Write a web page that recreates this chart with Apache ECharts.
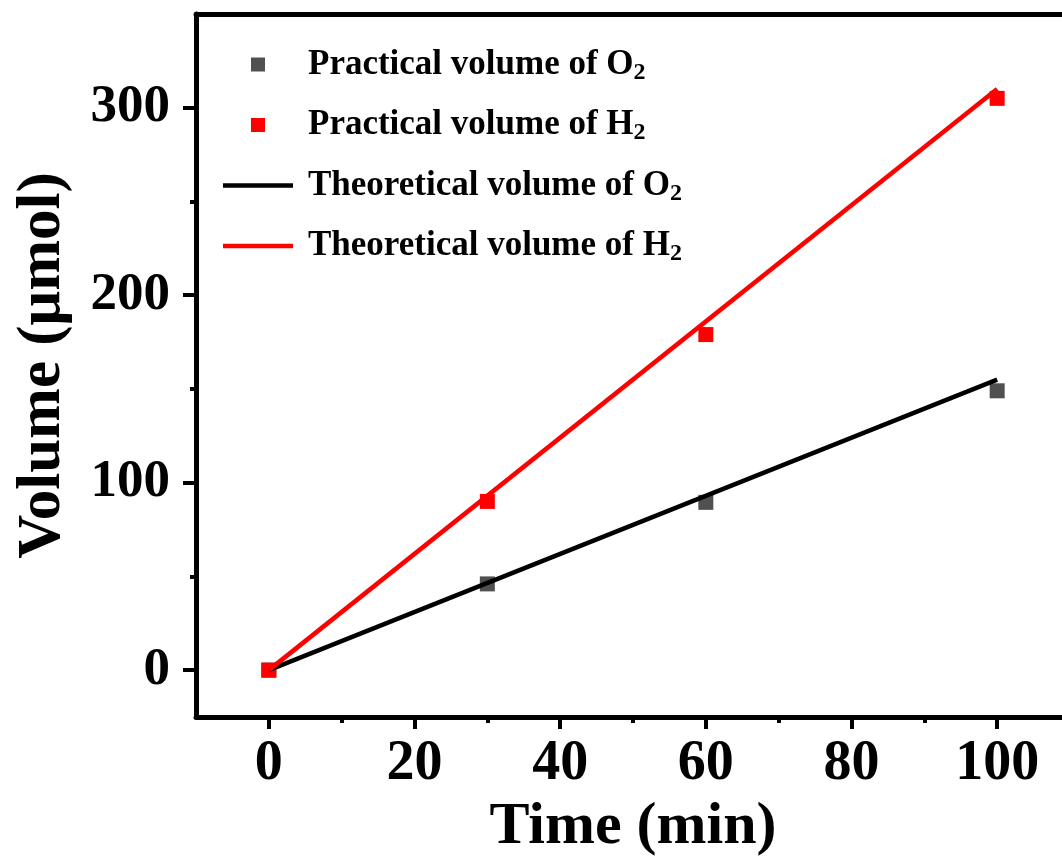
<!DOCTYPE html>
<html>
<head>
<meta charset="utf-8">
<title>Volume vs time</title>
<script src="https://cdn.jsdelivr.net/npm/echarts@6/dist/echarts.min.js"></script>
<style>
  html, body { margin: 0; padding: 0; background: #fff; }
  #chart { width: 1062px; height: 856px; }
</style>
</head>
<body>
<div id="chart"></div>
<script>
// Measured gas volumes (μmol) at each sampling time (min)
const sampleTimes = [0, 30, 60, 100];
const practicalO2 = [0, 46, 89.5, 149];
const practicalH2 = [0, 90, 179, 305];

// Theoretical volumes, straight lines from the start to the end of the run
const theoryTimes = [0, 100];
const theoreticalO2 = [0, 155];
const theoreticalH2 = [0, 310];

// Axis ticks and labels
const xMajorTicks = [0, 20, 40, 60, 80, 100];
const xMinorTicks = [10, 30, 50, 70, 90];
const yMajorTicks = [0, 100, 200, 300];
const yMinorTicks = [50, 150, 250];

// Legend entries: main text plus subscript
const seriesNames = [
  ['Practical volume of O', '2'],
  ['Practical volume of H', '2'],
  ['Theoretical volume of O', '2'],
  ['Theoretical volume of H', '2']
];

const FONT = "'Liberation Serif', 'Times New Roman', serif";
const pair = (xs, ys) => xs.map((x, i) => [x, ys[i]]);
const fullName = (n) => n[0] + n[1];
const squareIcon = 'path://M0,0L10,0L10,10L0,10Z';
const lineIcon = 'path://M0,0L70,0L70,4.5L0,4.5Z';

const chart = echarts.init(document.getElementById('chart'), null, { renderer: 'canvas' });

const axisBase = {
  type: 'value',
  min: -10,
  max: 110,
  splitLine: { show: false }
};

const option = {
  backgroundColor: '#fff',
  animation: false,
  grid: {
    left: 196, right: -8, top: 14, bottom: 139,
    outerBoundsMode: 'none'
  },
  legend: {
    orient: 'vertical',
    left: 223,
    top: 47,
    padding: 0,
    itemGap: 23,
    itemWidth: 70,
    itemHeight: 14,
    symbolKeepAspect: true,
    data: [
      { name: fullName(seriesNames[0]), icon: squareIcon },
      { name: fullName(seriesNames[1]), icon: squareIcon },
      { name: fullName(seriesNames[2]), icon: lineIcon },
      { name: fullName(seriesNames[3]), icon: lineIcon }
    ],
    formatter: function (name) {
      const n = seriesNames.find(s => fullName(s) === name);
      return '{t|' + n[0] + '}{s|' + n[1] + '}';
    },
    textStyle: {
      rich: {
        t: { fontFamily: FONT, fontWeight: 'bold', fontSize: 35, color: '#000', lineHeight: 40, padding: [0, 0, 0, 10] },
        s: { fontFamily: FONT, fontWeight: 'bold', fontSize: 24, color: '#000', lineHeight: 14, verticalAlign: 'bottom' }
      }
    }
  },
  xAxis: [
    Object.assign({}, axisBase, {
      position: 'bottom',
      name: 'Time (min)',
      nameLocation: 'middle',
      nameGap: 69,
      nameTextStyle: { fontFamily: FONT, fontWeight: 'bold', fontSize: 60, color: '#000' },
      axisLine: { show: true, onZero: false, lineStyle: { color: '#000', width: 5 } },
      axisTick: { show: true, customValues: xMajorTicks, length: 12, lineStyle: { color: '#000', width: 4 } },
      axisLabel: {
        customValues: xMajorTicks, margin: 20,
        fontFamily: FONT, fontWeight: 'bold', fontSize: 56, color: '#000'
      }
    }),
    Object.assign({}, axisBase, {
      position: 'bottom',
      axisLine: { show: false, onZero: false },
      axisTick: { show: true, customValues: xMinorTicks, length: 6, lineStyle: { color: '#000', width: 4 } },
      axisLabel: { show: false }
    }),
    Object.assign({}, axisBase, {
      position: 'top',
      axisLine: { show: true, onZero: false, lineStyle: { color: '#000', width: 5 } },
      axisTick: { show: false },
      axisLabel: { show: false }
    })
  ],
  yAxis: [
    {
      type: 'value',
      position: 'left',
      min: -25,
      max: 350,
      splitLine: { show: false },
      name: 'Volume (μmol)',
      nameLocation: 'middle',
      nameGap: 122,
      nameTextStyle: { fontFamily: FONT, fontWeight: 'bold', fontSize: 61, color: '#000' },
      axisLine: { show: true, onZero: false, lineStyle: { color: '#000', width: 5 } },
      axisTick: { show: true, customValues: yMajorTicks, length: 13, lineStyle: { color: '#000', width: 4 } },
      axisLabel: {
        customValues: yMajorTicks, margin: 26,
        fontFamily: FONT, fontWeight: 'bold', fontSize: 53, color: '#000'
      }
    },
    {
      type: 'value',
      position: 'left',
      min: -25,
      max: 350,
      splitLine: { show: false },
      axisLine: { show: false, onZero: false },
      axisTick: { show: true, customValues: yMinorTicks, length: 6, lineStyle: { color: '#000', width: 4 } },
      axisLabel: { show: false }
    }
  ],
  series: [
    {
      name: fullName(seriesNames[0]),
      type: 'scatter',
      symbol: 'rect',
      symbolSize: 15,
      itemStyle: { color: '#505050', opacity: 1 },
      data: pair(sampleTimes, practicalO2)
    },
    {
      name: fullName(seriesNames[1]),
      type: 'scatter',
      symbol: 'rect',
      symbolSize: 15,
      itemStyle: { color: '#ff0000', opacity: 1 },
      data: pair(sampleTimes, practicalH2)
    },
    {
      name: fullName(seriesNames[2]),
      type: 'line',
      showSymbol: false,
      symbol: 'none',
      lineStyle: { color: '#000', width: 4.5 },
      itemStyle: { color: '#000' },
      data: pair(theoryTimes, theoreticalO2)
    },
    {
      name: fullName(seriesNames[3]),
      type: 'line',
      showSymbol: false,
      symbol: 'none',
      lineStyle: { color: '#ff0000', width: 4.5 },
      itemStyle: { color: '#ff0000' },
      data: pair(theoryTimes, theoreticalH2)
    }
  ]
};

chart.setOption(option);
</script>
</body>
</html>
